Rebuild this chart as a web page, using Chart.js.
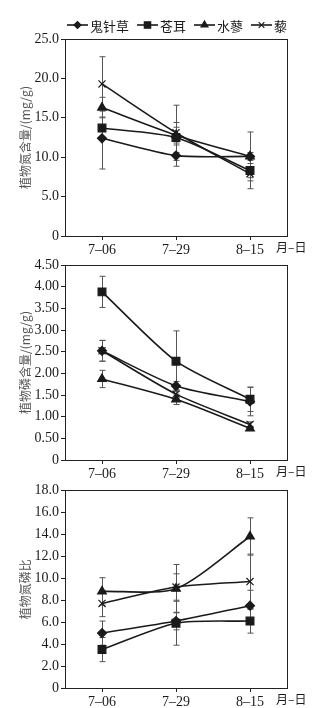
<!DOCTYPE html>
<html>
<head>
<meta charset="utf-8">
<script src="https://cdn.jsdelivr.net/npm/chart.js@4.4.0/dist/chart.umd.min.js"></script>
<style>
html, body { margin: 0; padding: 0; background: #fff; }
.box { position: absolute; left: 0; width: 336px; }
</style>
</head>
<body>
<div class="box" style="top:0;height:256px"><canvas id="chartN"></canvas></div>
<div class="box" style="top:252px;height:228px"><canvas id="chartP"></canvas></div>
<div class="box" style="top:480px;height:228px"><canvas id="chartNP"></canvas></div>
<script>
var dates = ['7–06', '7–29', '8–15'];
var species = ['鬼针草', '苍耳', '水蓼', '藜'];

// plant N content (mg/g) and error
var nBidens = [12.4, 10.2, 10.1];
var nXanthium = [13.7, 12.5, 8.3];
var nPolygonum = [16.3, 12.8, 10.1];
var nChenopodium = [19.3, 13.1, 7.9];
var nBidensErr = [3.9, 1.35, 0.5];
var nXanthiumErr = [1.4, 1.9, 0.9];
var nPolygonumErr = [1.3, 1.0, 3.1];
var nChenopodiumErr = [3.45, 3.5, 1.9];

// plant P content (mg/g) and error
var pBidens = [2.52, 1.71, 1.35];
var pXanthium = [3.88, 2.28, 1.40];
var pPolygonum = [1.87, 1.40, 0.73];
var pChenopodium = [2.52, 1.52, 0.82];
var pBidensErr = [0.24, 0.1, 0.33];
var pXanthiumErr = [0.36, 0.7, 0.28];
var pPolygonumErr = [0.2, 0.12, 0.05];
var pChenopodiumErr = [0.24, 0.1, 0.06];

// N:P ratio and error
var npBidens = [5.0, 6.1, 7.5];
var npXanthium = [3.5, 5.9, 6.1];
var npPolygonum = [8.8, 9.05, 13.8];
var npChenopodium = [7.7, 9.2, 9.7];
var npBidensErr = [1.1, 0.8, 1.4];
var npXanthiumErr = [1.1, 2.0, 1.1];
var npPolygonumErr = [1.25, 2.2, 1.7];
var npChenopodiumErr = [1.2, 1.2, 2.5];

var markers = ['rectRot', 'rect', 'triangle', 'crossRot'];
var markerSize = [4.5, 5.5, 5, 5];
var ink = '#1a1a1a';
var numFont = { family: 'Liberation Serif', size: 14 };
var cjk = 'Noto Sans CJK SC';

var errorBars = {
    id: 'errorBars',
    beforeDatasetsDraw: function(chart) {
        var ctx = chart.ctx, y = chart.scales.y;
        ctx.save();
        ctx.strokeStyle = '#555';
        ctx.lineWidth = 1;
        chart.data.datasets.forEach(function(ds, i) {
            chart.getDatasetMeta(i).data.forEach(function(pt, j) {
                var top = y.getPixelForValue(ds.data[j] + ds.errors[j]);
                var bot = y.getPixelForValue(ds.data[j] - ds.errors[j]);
                var x = Math.round(pt.x) + 0.5;
                ctx.beginPath();
                ctx.moveTo(x, top); ctx.lineTo(x, bot);
                ctx.moveTo(x - 3, top); ctx.lineTo(x + 3, top);
                ctx.moveTo(x - 3, bot); ctx.lineTo(x + 3, bot);
                ctx.stroke();
            });
        });
        ctx.restore();
    }
};

var frame = {
    id: 'frame',
    beforeDatasetsDraw: function(chart) {
        var a = chart.chartArea, ctx = chart.ctx;
        ctx.save();
        ctx.strokeStyle = '#222';
        ctx.lineWidth = 1;
        ctx.strokeRect(Math.round(a.left) + 0.5, Math.round(a.top) + 0.5,
            Math.round(a.right - a.left), Math.round(a.bottom - a.top));
        ctx.restore();
    },
    afterDraw: function(chart) {
        // unit after last date
        var ctx = chart.ctx;
        ctx.save();
        ctx.font = '12px "' + cjk + '"';
        ctx.fillStyle = ink;
        ctx.textBaseline = 'top';
        ctx.fillText('月–日', chart.chartArea.right - 11, chart.scales.x.top + 5);
        ctx.restore();
    }
};

var topLegend = {
    id: 'topLegend',
    afterDraw: function(chart) {
        var ctx = chart.ctx, x = 67, y = 25;
        ctx.save();
        ctx.font = '13px "' + cjk + '"';
        ctx.textBaseline = 'middle';
        chart.data.datasets.forEach(function(ds, i) {
            ctx.strokeStyle = ink;
            ctx.fillStyle = ink;
            ctx.lineWidth = 1.6;
            ctx.beginPath();
            ctx.moveTo(x, y); ctx.lineTo(x + 21, y);
            ctx.stroke();
            ctx.lineWidth = 1.2;
            Chart.helpers.drawPoint(ctx, {
                pointStyle: markers[i], radius: markerSize[i] - 1, rotation: 0, borderWidth: 1.2
            }, x + 10.5, y);
            ctx.fillText(ds.label, x + 23, y + 1);
            x += 23 + ctx.measureText(ds.label).width + 8;
        });
        ctx.restore();
    }
};

function makeChart(id, series, errs, yMax, yStep, decimals, title, padTop, legend) {
    var datasets = series.map(function(values, i) {
        return {
            label: species[i],
            data: values,
            errors: errs[i],
            borderColor: ink,
            backgroundColor: ink,
            borderWidth: 1.6,
            tension: 0.25,
            pointStyle: markers[i],
            pointRadius: markerSize[i],
            pointBorderWidth: 1.2,
            pointBackgroundColor: ink,
            pointBorderColor: ink
        };
    });
    var plugins = [errorBars, frame];
    if (legend) plugins.push(topLegend);

    return new Chart(document.getElementById(id).getContext('2d'), {
        type: 'line',
        data: { labels: dates, datasets: datasets },
        plugins: plugins,
        options: {
            responsive: true,
            maintainAspectRatio: false,
            animation: false,
            layout: { padding: { top: padTop, right: 49, bottom: 0, left: 0 } },
            plugins: { legend: { display: false }, tooltip: { enabled: false } },
            scales: {
                x: {
                    type: 'category',
                    offset: true,
                    grid: { offset: false, drawOnChartArea: false, tickLength: 4, color: '#222' },
                    border: { color: '#222' },
                    ticks: { font: numFont, color: ink, padding: 2, maxRotation: 0 },
                    afterFit: function(s) { s.height = 20; }
                },
                y: {
                    min: 0,
                    max: yMax,
                    grid: { drawOnChartArea: false, tickLength: 4, color: '#222' },
                    border: { color: '#222' },
                    ticks: {
                        stepSize: yStep,
                        font: numFont,
                        color: ink,
                        padding: 2,
                        callback: function(v) { return v === 0 ? '0' : v.toFixed(decimals); }
                    },
                    title: {
                        display: true,
                        text: title,
                        color: '#555',
                        font: { family: cjk, size: 12 },
                        padding: { top: 18, bottom: 0 }
                    },
                    afterFit: function(s) { s.width = 65; }
                }
            }
        }
    });
}

makeChart('chartN',
    [nBidens, nXanthium, nPolygonum, nChenopodium],
    [nBidensErr, nXanthiumErr, nPolygonumErr, nChenopodiumErr],
    25, 5, 1, '植物氮含量/(mg/g)', 39, true);

makeChart('chartP',
    [pBidens, pXanthium, pPolygonum, pChenopodium],
    [pBidensErr, pXanthiumErr, pPolygonumErr, pChenopodiumErr],
    4.5, 0.5, 2, '植物磷含量/(mg/g)', 13, false);

makeChart('chartNP',
    [npBidens, npXanthium, npPolygonum, npChenopodium],
    [npBidensErr, npXanthiumErr, npPolygonumErr, npChenopodiumErr],
    18, 2, 1, '植物氮磷比', 9, false);
</script>
</body>
</html>
